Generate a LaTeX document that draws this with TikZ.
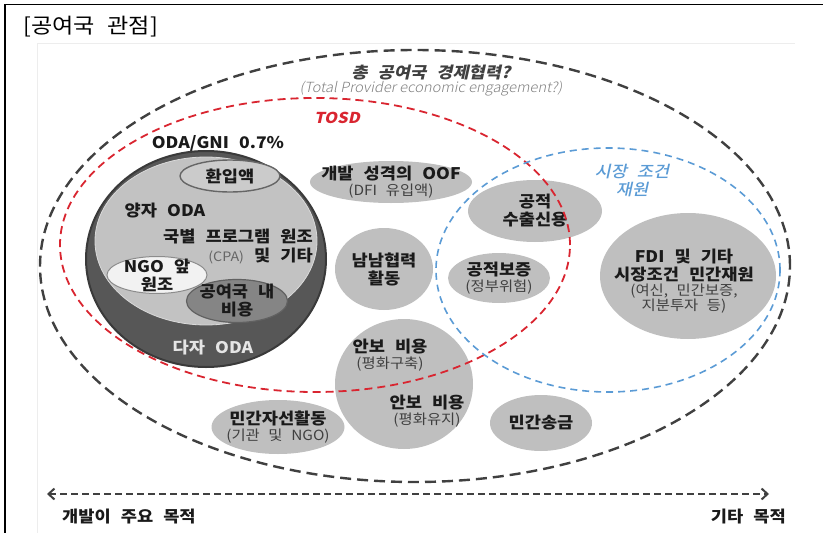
\documentclass[tikz,border=0pt]{standalone}
\usepackage{fontspec}
\setmainfont{Noto Sans CJK KR}[FakeStretch=1.1,WordSpace=2.5]
\newfontfamily\slantfam{Noto Sans CJK KR}[FakeStretch=1.1,WordSpace=2.5,FakeSlant=0.22]
\newfontfamily\slantmed{Noto Sans CJK KR Medium}[FakeStretch=1.1,WordSpace=2.5,FakeSlant=0.22]
\newfontfamily\slantlat{Noto Sans CJK KR Light}[FakeStretch=1.05,FakeSlant=0.2]
\usetikzlibrary{shapes.geometric,arrows.meta}
\definecolor{dkline}{HTML}{404040}
\definecolor{redline}{HTML}{D92530}
\definecolor{blueline}{HTML}{5B9BD5}
\definecolor{gfill}{HTML}{BFBFBF}
\definecolor{odadark}{HTML}{575757}
\definecolor{odaedge}{HTML}{3A3A3A}
\definecolor{odalight}{HTML}{C2C2C2}
\definecolor{txt}{HTML}{1A1A1A}
\definecolor{subtxt}{HTML}{404040}
\begin{document}
\begin{tikzpicture}[x=1pt,y=-1pt,
  gell/.style={ellipse,fill=gfill,draw=none,inner sep=0pt},
  lbl/.style={align=center,text=txt,inner sep=0pt,font=\fontsize{16}{18}\selectfont\bfseries},
  bigdash/.style={draw=dkline,line width=2.4pt,dash pattern=on 11pt off 6pt},
  reddash/.style={draw=redline,line width=1.8pt,dash pattern=on 8pt off 5pt},
  bluedash/.style={draw=blueline,line width=1.6pt,dash pattern=on 7pt off 5pt},
]
\newcommand\subtext[1]{{\fontsize{14}{15}\selectfont\mdseries\color{subtxt}#1}}
\useasboundingbox (0,0) rectangle (823,533);
% frame and faint lines
\draw[line width=1.6pt,black] (5,533) -- (5,4.5) -- (823,4.5);
\draw[line width=0.8pt,black!7] (37.5,533) -- (37.5,43) -- (795,43);
% title
\node[anchor=west,inner sep=0pt,font=\fontsize{21}{24}\selectfont,text=black] (title) at (23,27) {[공여국 관점]};

% ODA big circle
\node[ellipse,fill=odadark,draw=odaedge,line width=2pt,minimum width=240pt,minimum height=216pt,inner sep=0pt] (odaout) at (206,259) {};
\node[ellipse,fill=odalight,draw=black!15,line width=0.8pt,minimum width=222pt,minimum height=168pt,inner sep=0pt] (odain) at (206,241) {};
\node[ellipse,fill=odalight!85!white,draw=black!60,line width=1.4pt,minimum width=100pt,minimum height=32pt,inner sep=0pt] (hwan) at (230,176) {};
\node[lbl] (hwant) at (hwan) {환입액};
\node[ellipse,fill=black!5,draw=black!45,line width=1pt,minimum width=100pt,minimum height=37pt,inner sep=0pt] (ngo) at (157,275) {};
\node[lbl] (ngot) at (ngo) {NGO 앞\\원조};
\node[ellipse,fill=black!48,draw=black!62,line width=1.2pt,minimum width=101pt,minimum height=43pt,inner sep=0pt] (donor) at (237,301) {};
\node[lbl] (donort) at (donor) {공여국 내\\비용};
\node[lbl] (oda07) at (218,143) {ODA/GNI 0.7\%};
\node[lbl] (bilat) at (165,211) {양자 ODA};
\node[lbl,anchor=east] (cpa1) at (313,237) {국별 프로그램 원조};
\node[lbl,anchor=east] (cpa2) at (313,256) {{\fontsize{13}{15}\selectfont\mdseries\color{black!60}(CPA)} 및 기타};
\node[lbl,text=black!10] (multi) at (213,348) {다자 ODA};

% gray ellipses
\node[gell,minimum width=162pt,minimum height=42pt] (oof) at (391,182) {};
\node[lbl] (ooft) at (oof) {개발 성격의 OOF\\[-2pt]\subtext{(DFI 유입액)}};
\node[gell,minimum width=98pt,minimum height=82pt] (ss) at (384,269) {};
\node[lbl] (sst) at (ss) {남남협력\\활동};
\node[gell,minimum width=134pt,minimum height=62pt] (exp) at (535,211) {};
\node[lbl] (expt) at (exp) {공적\\수출신용};
\node[gell,minimum width=102pt,minimum height=50pt] (guar) at (499,278) {};
\node[lbl] (guart) at (guar) {공적보증\\[-2pt]\subtext{(정부위험)}};
\node[gell,minimum width=176pt,minimum height=126pt] (fdi) at (688,276) {};
\node[lbl] (fdit) at (684,281) {FDI 및 기타\\시장조건 민간재원\\[-3pt]\subtext{(여신, 민간보증,}\\[-3pt]\subtext{지분투자 등)}};
\node[gell,minimum width=138pt,minimum height=130pt] (sec) at (404,384) {};
\node[lbl] (sec1) at (390,355) {안보 비용\\[-2pt]\subtext{(평화구축)}};
\node[lbl] (sec2) at (427,411) {안보 비용\\[-2pt]\subtext{(평화유지)}};
\node[gell,minimum width=133pt,minimum height=54pt] (phil) at (278,427) {};
\node[lbl] (philt) at (phil) {민간자선활동\\[-2pt]\subtext{(기관 및 NGO)}};
\node[gell,minimum width=102pt,minimum height=56pt] (remit) at (541,423) {};
\node[lbl] (remitt) at (remit) {민간송금};

% dashed boundaries
\node[ellipse,bigdash,minimum width=750pt,minimum height=432pt,inner sep=0pt] (total) at (415,266) {};
\node[ellipse,reddash,minimum width=510pt,minimum height=294pt,inner sep=0pt] (tosd) at (315,245) {};
\node[ellipse,bluedash,minimum width=344pt,minimum height=244pt,inner sep=0pt] (market) at (608,270) {};

% titles of boundaries
\node[inner sep=0pt,text=dkline,font=\fontsize{16}{18}\selectfont\slantfam\bfseries] (totalt) at (431,72) {총 공여국 경제협력?};
\node[inner sep=0pt,text=black!50,font=\fontsize{14}{16}\selectfont\slantlat] (totale) at (431,89) {(Total Provider economic engagement?)};
\node[inner sep=0pt,text=redline,font=\fontsize{15}{18}\selectfont\slantfam\bfseries] (tosdt) at (337,118) {TOSD};
\node[inner sep=0pt,align=center,text=blueline,font=\fontsize{16}{18}\selectfont\slantmed] (markett) at (632,180) {시장 조건\\재원};

% bottom axis
\coordinate (axl) at (47,494);
\coordinate (axr) at (769,494);
\draw[draw=dkline,line width=2pt,dash pattern=on 7pt off 4pt,{Straight Barb[length=6pt,width=11pt,line width=2pt]}-{Straight Barb[length=6pt,width=11pt,line width=2pt]}] (axl) -- (axr);
\node[anchor=west,inner sep=0pt,text=txt,font=\fontsize{16}{18}\selectfont\bfseries] (devl) at (62,517) {개발이 주요 목적};
\node[anchor=east,inner sep=0pt,text=txt,font=\fontsize{16}{18}\selectfont\bfseries] (othr) at (786,517) {기타 목적};
\end{tikzpicture}
\end{document}
